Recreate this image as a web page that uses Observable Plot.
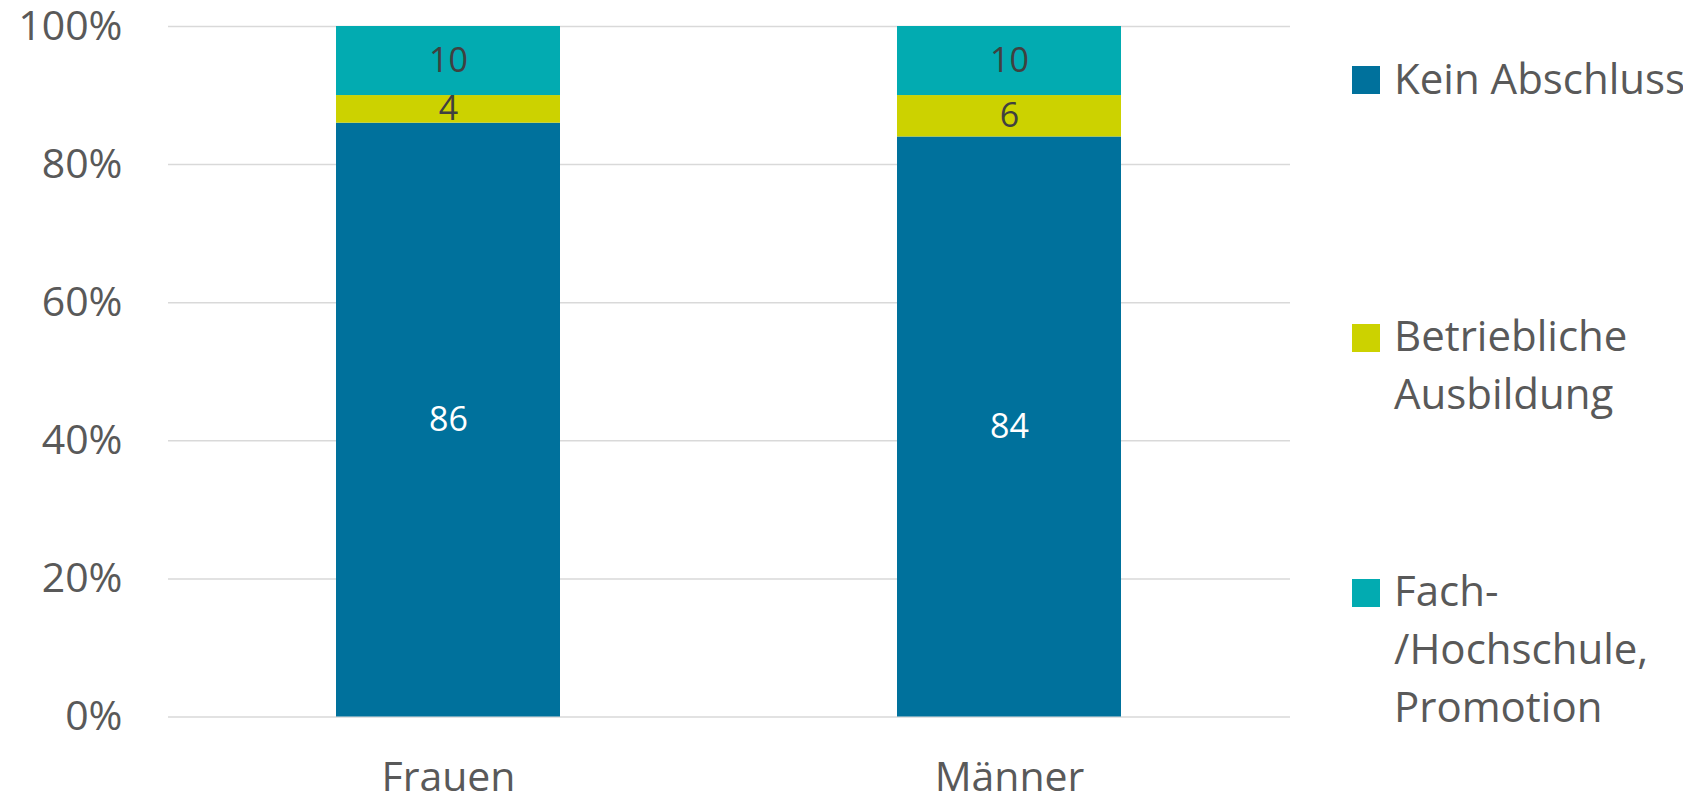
<!DOCTYPE html>
<html><head><meta charset="utf-8">
<script src="https://cdn.jsdelivr.net/npm/d3@7"></script>
<script src="https://cdn.jsdelivr.net/npm/@observablehq/plot@0.6"></script>
<style>
html,body{margin:0;padding:0;background:#fff;}
#wrap{position:relative;width:1683px;height:798px;font-family:"Open Sans",sans-serif;color:#595959;}
#wrap svg{position:absolute;left:0;top:0;overflow:visible;}
.leg{position:absolute;left:1394px;font-size:42px;line-height:58px;white-space:nowrap;color:#595959;}
.sw{position:absolute;left:-42px;width:28px;height:28px;}
</style></head><body><div id="wrap"></div>
<script>
const groups = ["Frauen", "Männer"];
const categories = ["Kein Abschluss", "Betriebliche Ausbildung", "Fach-/Hochschule, Promotion"];
const legendLines = [["Kein Abschluss"], ["Betriebliche", "Ausbildung"], ["Fach-", "/Hochschule,", "Promotion"]];
const keinAbschluss = [86, 84];
const betrieblicheAusbildung = [4, 6];
const hochschule = [10, 10];
const colors = ["#00719C", "#CCD200", "#02ABB1"];
const yTicks = [0, 20, 40, 60, 80, 100];

const series = [keinAbschluss, betrieblicheAusbildung, hochschule];
const data = [];
groups.forEach((g, i) => categories.forEach((c, j) => data.push({group: g, category: c, value: series[j][i]})));

const stackOpts = {x: "group", y: "value", z: "category", order: categories, text: d => String(d.value)};

const chart = Plot.plot({
  width: 1683, height: 798,
  marginLeft: 168, marginRight: 393, marginTop: 26, marginBottom: 81.5,
  style: {fontFamily: "Open Sans, sans-serif", color: "#595959", background: "transparent", overflow: "visible"},
  x: {domain: groups, paddingInner: 0.6, paddingOuter: 0.3},
  y: {domain: [0, 100]},
  color: {domain: categories, range: colors},
  marks: [
    Plot.ruleY(yTicks, {stroke: "#d9d9d9", strokeWidth: 1.5}),
    Plot.barY(data, {x: "group", y: "value", fill: "category", order: categories}),
    Plot.text(data, Plot.filter(d => d.category === categories[0], Plot.stackY({...stackOpts, fill: "white", fontSize: 34}))),
    Plot.text(data, Plot.filter(d => d.category !== categories[0], Plot.stackY({...stackOpts, fill: "#404040", fontSize: 34}))),
    Plot.axisY({ticks: yTicks, tickFormat: d => d + "%", tickSize: 0, tickPadding: 46, fontSize: 41, label: null}),
    Plot.axisX({tickSize: 0, tickPadding: 45, fontSize: 41, label: null})
  ]
});
const wrap = document.getElementById("wrap");
wrap.appendChild(chart);

// legend (to the right of the plot)
const legendBaselines = [94, 351.7, 606.7];
categories.forEach((c, j) => {
  const div = document.createElement("div");
  div.className = "leg";
  div.style.top = (legendBaselines[j] - 45.3) + "px";
  div.innerHTML = legendLines[j].join("<br>");
  const sw = document.createElement("div");
  sw.className = "sw";
  sw.style.background = colors[j];
  sw.style.top = (45.3 - 28) + "px";
  div.appendChild(sw);
  wrap.appendChild(div);
});
</script>
</body></html>
